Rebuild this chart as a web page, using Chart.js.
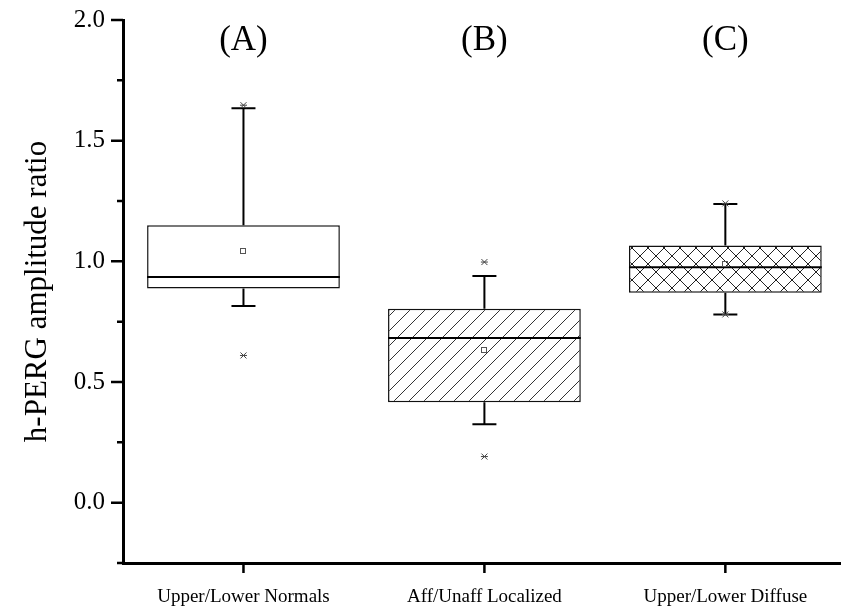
<!DOCTYPE html>
<html>
<head>
<meta charset="utf-8">
<script src="https://cdn.jsdelivr.net/npm/chart.js@4.4.1/dist/chart.umd.min.js"></script>
<style>
  body { margin: 0; background: #fff; }
  #wrap { width: 841px; height: 613px; }
</style>
</head>
<body>
<div id="wrap"><canvas id="box" width="841" height="613"></canvas></div>
<script>
// ─── DATA ───
const categories = ['Upper/Lower Normals', 'Aff/Unaff Localized', 'Upper/Lower Diffuse'];
const panelTags  = ['(A)', '(B)', '(C)'];
const q1Vals     = [0.887, 0.416, 0.870];
const q3Vals     = [1.150, 0.804, 1.066];
const medianVals = [0.935, 0.682, 0.976];
const meanVals   = [1.041, 0.631, 0.990];
const whiskLow   = [0.815, 0.325, 0.780];
const whiskHigh  = [1.634, 0.939, 1.238];
const minVals    = [0.610, 0.191, 0.780];
const maxVals    = [1.647, 0.997, 1.240];
const yTicks     = [0, 0.5, 1.0, 1.5, 2.0];
const yMinor     = [-0.25, 0.25, 0.75, 1.25, 1.75];

const SERIF = "'Liberation Serif', 'Times New Roman', serif";

// ─── HATCH PATTERNS ───
function makeHatch(dirs, size, color) {
  const c = document.createElement('canvas');
  c.width = size; c.height = size;
  const g = c.getContext('2d');
  g.fillStyle = '#fff';
  g.fillRect(0, 0, size, size);
  g.strokeStyle = color;
  g.lineWidth = 1;
  g.beginPath();
  if (dirs.includes('/')) {
    g.moveTo(-1, size + 1); g.lineTo(size + 1, -1);
    g.moveTo(-1, 1); g.lineTo(1, -1);
    g.moveTo(size - 1, size + 1); g.lineTo(size + 1, size - 1);
  }
  if (dirs.includes('\\')) {
    g.moveTo(-1, -1); g.lineTo(size + 1, size + 1);
    g.moveTo(size - 1, -1); g.lineTo(size + 1, 1);
    g.moveTo(-1, size - 1); g.lineTo(1, size + 1);
  }
  g.stroke();
  return g.createPattern(c, 'repeat');
}

const boxFills = ['#ffffff', makeHatch('/', 15, '#333'), makeHatch('/\\', 16, '#222')];

// ─── BOX DECORATIONS (whiskers, medians, markers, ticks) ───
const boxExtras = {
  id: 'boxExtras',
  afterDatasetsDraw(chart) {
    const { ctx, scales: { x, y } } = chart;
    const bars = chart.getDatasetMeta(0).data;
    ctx.save();
    bars.forEach((bar, i) => {
      const cx = bar.x, half = bar.width / 2;
      ctx.strokeStyle = '#000';
      ctx.lineWidth = 2;
      ctx.beginPath();
      // whiskers
      ctx.moveTo(cx, y.getPixelForValue(q3Vals[i]));
      ctx.lineTo(cx, y.getPixelForValue(whiskHigh[i]));
      ctx.moveTo(cx, y.getPixelForValue(q1Vals[i]));
      ctx.lineTo(cx, y.getPixelForValue(whiskLow[i]));
      // caps
      [whiskHigh[i], whiskLow[i]].forEach(v => {
        const py = y.getPixelForValue(v);
        ctx.moveTo(cx - 12, py); ctx.lineTo(cx + 12, py);
      });
      // median
      const pm = y.getPixelForValue(medianVals[i]);
      ctx.moveTo(cx - half, pm); ctx.lineTo(cx + half, pm);
      ctx.stroke();

      // mean
      ctx.lineWidth = 1;
      ctx.strokeStyle = '#555';
      const pmean = y.getPixelForValue(meanVals[i]);
      ctx.strokeRect(Math.round(cx) - 2.5, Math.round(pmean) - 2.5, 5, 5);

      // min / max markers
      ctx.strokeStyle = '#444';
      [minVals[i], maxVals[i]].forEach(v => {
        const py = y.getPixelForValue(v);
        ctx.beginPath();
        ctx.moveTo(cx - 3, py - 3); ctx.lineTo(cx + 3, py + 3);
        ctx.moveTo(cx - 3, py + 3); ctx.lineTo(cx + 3, py - 3);
        ctx.moveTo(cx - 3.5, py); ctx.lineTo(cx + 3.5, py);
        ctx.stroke();
      });

      // panel tag
      ctx.fillStyle = '#000';
      ctx.font = `35px ${SERIF}`;
      ctx.textAlign = 'center';
      ctx.textBaseline = 'middle';
      ctx.fillText(panelTags[i], cx, y.getPixelForValue(1.915));
    });

    // axis ticks
    ctx.strokeStyle = '#000';
    ctx.lineWidth = 2.5;
    ctx.beginPath();
    const left = chart.chartArea.left, bottom = chart.chartArea.bottom;
    yTicks.forEach(v => {
      const py = y.getPixelForValue(v);
      ctx.moveTo(left - 12, py); ctx.lineTo(left, py);
    });
    yMinor.forEach(v => {
      const py = y.getPixelForValue(v);
      ctx.moveTo(left - 6, py); ctx.lineTo(left, py);
    });
    categories.forEach((c, i) => {
      const px = x.getPixelForValue(i + 1);
      ctx.moveTo(px, bottom); ctx.lineTo(px, bottom + 10);
    });
    ctx.stroke();
    ctx.restore();
  }
};

new Chart(document.getElementById('box'), {
  type: 'bar',
  data: {
    datasets: [{
      data: categories.map((c, i) => ({ x: i + 1, y: [q1Vals[i], q3Vals[i]] })),
      backgroundColor: boxFills,
      borderColor: '#111',
      borderWidth: 1.5,
      borderSkipped: false,
      barPercentage: 0.8,
      categoryPercentage: 1,
    }],
  },
  options: {
    responsive: false,
    animation: false,
    devicePixelRatio: 1,
    layout: { padding: { top: 20, right: 0, bottom: 0, left: 0 } },
    plugins: { legend: { display: false }, tooltip: { enabled: false } },
    scales: {
      x: {
        type: 'linear',
        offset: false,
        min: 0.5, max: 3.48,
        grid: { display: false, drawTicks: false, offset: false },
        border: { display: true, width: 3, color: '#000' },
        afterBuildTicks: s => { s.ticks = categories.map((c, i) => ({ value: i + 1 })); },
        afterFit: s => { s.height = 50; s.paddingLeft = 0; s.paddingRight = 0; },
        ticks: {
          color: '#000', padding: 23, maxRotation: 0, autoSkip: false,
          font: { family: SERIF, size: 19 },
          callback: v => categories[v - 1],
        },
      },
      y: {
        min: -0.25, max: 2.0,
        grid: { display: false, drawTicks: false },
        border: { display: true, width: 3, color: '#000' },
        afterBuildTicks: s => { s.ticks = yTicks.map(v => ({ value: v })); },
        afterFit: s => { s.width = 123; s.paddingTop = 0; s.paddingBottom = 0; },
        ticks: {
          color: '#000', padding: 18,
          font: { family: SERIF, size: 25 },
          callback: v => v.toFixed(1),
        },
        title: {
          display: true, text: 'h-PERG amplitude ratio', color: '#000',
          font: { family: SERIF, size: 31 },
          padding: { top: 19, bottom: 0 },
        },
      },
    },
  },
  plugins: [boxExtras],
});
</script>
</body>
</html>
